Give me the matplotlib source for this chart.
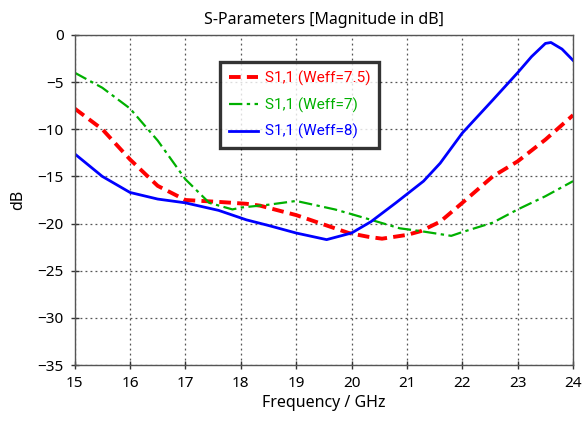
import matplotlib
matplotlib.use("Agg")
import matplotlib.pyplot as plt

freq_red = [15.0, 15.5, 16.0, 16.5, 17.0, 17.6, 18.1, 18.35, 19.0, 19.5, 19.95, 20.3, 20.55, 21.0, 21.25, 21.6, 22.0, 22.55, 23.0, 23.5, 24.0]
s11_red = [-7.8, -10.0, -13.2, -16.0, -17.5, -17.7, -17.9, -18.1, -19.1, -20.1, -21.0, -21.4, -21.6, -21.2, -20.8, -19.8, -17.8, -15.0, -13.4, -11.1, -8.5]

freq_green = [15.0, 15.5, 16.0, 16.5, 17.0, 17.43, 17.85, 18.0, 18.5, 19.0, 19.7, 20.0, 20.35, 20.87, 21.25, 21.8, 22.0, 22.55, 23.0, 23.5, 24.0]
s11_green = [-4.0, -5.6, -7.8, -11.2, -15.3, -17.8, -18.5, -18.3, -18.0, -17.6, -18.5, -19.0, -19.6, -20.5, -20.8, -21.3, -20.9, -19.9, -18.5, -17.1, -15.5]

freq_blue = [15.0, 15.5, 16.0, 16.5, 17.0, 17.6, 18.1, 18.5, 19.0, 19.55, 20.0, 20.35, 20.8, 21.3, 21.6, 22.0, 22.55, 23.0, 23.25, 23.5, 23.6, 23.8, 24.0]
s11_blue = [-12.6, -15.0, -16.7, -17.4, -17.8, -18.6, -19.6, -20.2, -21.0, -21.7, -21.0, -19.8, -17.8, -15.5, -13.6, -10.4, -6.9, -4.0, -2.3, -0.9, -0.8, -1.5, -2.7]

labels = ["S1,1 (Weff=7.5)", "S1,1 (Weff=7)", "S1,1 (Weff=8)"]
colors = ["#ff0000", "#00b000", "#0000ff"]

xticks = list(range(15, 25))
yticks = list(range(-35, 1, 5))

plt.rcParams["font.family"] = ["Noto Sans", "DejaVu Sans"]

fig = plt.figure(figsize=(5.83, 4.26), dpi=100)
ax = fig.add_axes([0.128, 0.143, 0.855, 0.775])

ax.plot(freq_red, s11_red, color=colors[0], lw=2.8, ls=(0, (3, 1.6)), label=labels[0])
ax.plot(freq_green, s11_green, color=colors[1], lw=1.6, ls=(0, (6, 2, 1.5, 2)), label=labels[1])
ax.plot(freq_blue, s11_blue, color=colors[2], lw=2.0, ls="-", label=labels[2])

ax.set_xlim(15, 24)
ax.set_ylim(-35, 0)
ax.set_xticks(xticks)
ax.set_yticks(yticks)
ax.tick_params(direction="inout", length=6, width=1, labelsize=11, colors="#333333", pad=5)
for lbl in ax.get_xticklabels() + ax.get_yticklabels():
    lbl.set_color("black")
ax.grid(True, color="#555555", ls=(0, (1.5, 2.5)), lw=0.9)
for sp in ax.spines.values():
    sp.set_color("#555555")
    sp.set_linewidth(1.0)

ax.set_title("S-Parameters [Magnitude in dB]", fontsize=11.5, pad=8)
ax.set_xlabel("Frequency / GHz", fontsize=11.5, labelpad=3)
ax.set_ylabel("dB", fontsize=11.5, labelpad=8)

leg = ax.legend(loc="upper left", bbox_to_anchor=(0.292, 0.918),
                prop={"family": ["Roboto", "Noto Sans"], "size": 11},
                frameon=True, fancybox=False, handlelength=1.9, borderpad=0.55,
                labelspacing=0.75, handletextpad=0.5, borderaxespad=0)
leg.get_frame().set_edgecolor("black")
leg.get_frame().set_linewidth(2.4)
for txt, c in zip(leg.get_texts(), colors):
    txt.set_color(c)

fig.savefig("out.png", dpi=100)
